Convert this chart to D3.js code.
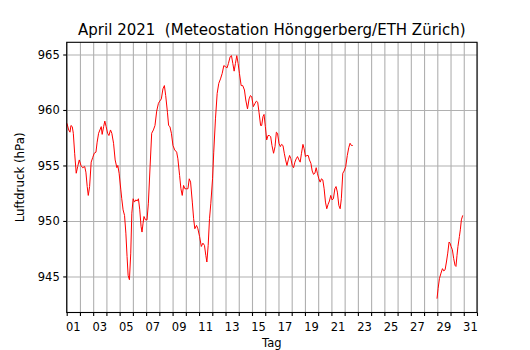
<!DOCTYPE html>
<html>
<head>
<meta charset="utf-8">
<script src="https://cdn.jsdelivr.net/npm/d3@7"></script>
<style>
  html, body { margin: 0; padding: 0; background: #fff; }
  #chart-pressure { width: 530px; height: 350px; }
  text { font-family: "DejaVu Sans", sans-serif; white-space: pre; }
</style>
</head>
<body>
<div id="chart-pressure"></div>
<script>
/* ── Data: April 2021, air pressure (hPa), day of month as decimal ─── */
const TITLE   = 'April 2021  (Meteostation Hönggerberg/ETH Zürich)';
const X_LABEL = 'Tag';
const Y_LABEL = 'Luftdruck (hPa)';

// null marks the gap in the record (22nd – 28th)
const days = [
  1.02, 1.15, 1.25, 1.32, 1.42, 1.50, 1.60, 1.72, 1.83, 1.95,
  2.08, 2.20, 2.36, 2.45, 2.55, 2.63, 2.73, 2.85, 2.96, 3.08,
  3.21, 3.30, 3.41, 3.51, 3.61, 3.68, 3.79, 3.88, 3.98, 4.09,
  4.19, 4.31, 4.41, 4.54, 4.66, 4.79, 4.86, 4.96, 5.09, 5.16,
  5.26, 5.37, 5.47, 5.56, 5.64, 5.74, 5.84, 5.92, 6.02, 6.12,
  6.22, 6.32, 6.42, 6.52, 6.62, 6.69, 6.77, 6.84, 6.95, 7.07,
  7.17, 7.30, 7.42, 7.55, 7.67, 7.80, 7.93, 8.03, 8.15, 8.27,
  8.38, 8.48, 8.61, 8.70, 8.80, 8.91, 9.03, 9.16, 9.31, 9.40,
  9.53, 9.63, 9.73, 9.83, 9.93, 10.04, 10.16, 10.26, 10.36, 10.49,
  10.59, 10.68, 10.81, 10.91, 11.04, 11.17, 11.29, 11.41, 11.51, 11.59,
  11.69, 11.79, 11.89, 12.02, 12.11, 12.24, 12.37, 12.49, 12.62, 12.75,
  12.87, 13.00, 13.12, 13.22, 13.35, 13.45, 13.55, 13.65, 13.75, 13.85,
  13.95, 14.05, 14.18, 14.30, 14.43, 14.53, 14.66, 14.78, 14.88, 14.98,
  15.10, 15.23, 15.33, 15.43, 15.53, 15.65, 15.73, 15.83, 15.91, 16.01,
  16.11, 16.21, 16.31, 16.41, 16.51, 16.63, 16.74, 16.84, 16.93, 17.04,
  17.14, 17.23, 17.34, 17.44, 17.54, 17.64, 17.74, 17.84, 17.94, 18.04,
  18.14, 18.24, 18.34, 18.44, 18.55, 18.64, 18.74, 18.85, 18.94, 19.04,
  19.15, 19.25, 19.34, 19.45, 19.55, 19.65, 19.75, 19.85, 19.94, 20.05,
  20.15, 20.25, 20.35, 20.45, 20.55, 20.65, 20.75, 20.85, 20.95, 21.05,
  21.15, 21.26, 21.35, 21.45, 21.56, 21.66, 21.75, 21.86, 21.96, 22.08,
  22.20, 22.31, 22.41, 22.51, 22.61,
  null,
  28.98, 29.06, 29.16, 29.28, 29.39, 29.49, 29.59, 29.69, 29.79, 29.89,
  29.96, 30.04, 30.14, 30.24, 30.34, 30.41, 30.49, 30.56, 30.67, 30.74,
  30.82, 30.92
];

const pressure = [
  958.8, 958.2, 958.0, 958.6, 958.5, 957.9, 956.1, 954.3, 954.9, 955.5,
  955.0, 954.8, 954.9, 954.4, 953.1, 952.3, 953.1, 955.3, 955.7, 956.1,
  956.2, 957.1, 957.9, 958.2, 958.5, 957.8, 958.5, 959.0, 958.5, 957.9,
  957.7, 958.2, 957.9, 957.0, 955.5, 954.8, 955.0, 954.3, 952.8, 952.0,
  951.0, 950.5, 948.9, 946.8, 945.1, 944.7, 947.1, 950.7, 952.0, 951.7,
  951.9, 951.8, 952.0, 951.0, 949.5, 949.0, 949.8, 950.4, 950.1, 950.1,
  951.6, 954.9, 957.9, 958.2, 958.6, 959.9, 960.6, 960.8, 961.0, 961.9,
  962.2, 961.3, 959.8, 958.6, 958.5, 957.9, 956.8, 956.4, 956.2, 955.6,
  954.1, 952.9, 952.3, 953.2, 952.9, 952.9, 952.9, 953.8, 953.5, 951.7,
  950.2, 949.3, 949.6, 949.3, 948.6, 947.7, 948.0, 947.8, 946.9, 946.3,
  947.8, 950.2, 951.6, 953.8, 956.2, 959.2, 961.5, 962.4, 962.8, 963.3,
  964.0, 963.9, 963.8, 964.2, 964.8, 964.9, 964.2, 963.5, 964.2, 964.9,
  964.2, 963.3, 962.2, 962.2, 961.8, 960.9, 960.1, 961.0, 961.3, 961.2,
  960.3, 960.6, 960.8, 960.7, 959.8, 958.6, 958.6, 959.4, 959.6, 958.5,
  957.3, 957.7, 957.7, 957.6, 956.8, 956.1, 956.7, 958.0, 957.9, 957.0,
  956.7, 956.9, 956.8, 956.1, 955.5, 955.0, 955.5, 955.9, 955.6, 955.0,
  954.8, 955.3, 955.6, 955.8, 955.5, 955.3, 956.1, 956.9, 956.5, 955.8,
  955.9, 955.9, 955.5, 955.2, 954.5, 954.2, 954.3, 954.8, 954.3, 953.8,
  953.5, 953.8, 953.7, 952.9, 951.7, 951.1, 951.5, 951.8, 952.3, 951.9,
  952.0, 952.9, 953.1, 952.6, 951.4, 951.1, 952.0, 954.3, 954.5, 954.9,
  955.9, 956.6, 957.0, 956.8, 956.8,
  null,
  943.0, 943.9, 944.8, 945.3, 945.7, 945.5, 945.6, 946.3, 947.1, 948.1,
  948.0, 947.7, 947.4, 946.6, 946.0, 945.9, 946.9, 947.7, 948.6, 949.2,
  950.1, 950.5
];

const yTicks      = [945, 950, 955, 960, 965];
const dayTicks    = d3.range(1, 33);                 // day boundaries 1 … 32
const dayLabels   = d3.range(1, 32, 2);              // labelled days 01, 03, … 31

/**
 * Render the monthly pressure line chart.
 */
function drawPressureChart() {
  const container = document.getElementById('chart-pressure');
  container.innerHTML = '';

  const W = 530, H = 350;
  const margin = { top: 42.3, right: 53, bottom: 37.5, left: 66.7 };
  const w = W - margin.left - margin.right;
  const h = H - margin.top - margin.bottom;

  const data = days.map((d, i) => ({ day: d, p: pressure[i] }));

  /* ── SVG scaffold ───────────────────────────────────────────────── */
  const svg = d3.select(container)
    .append('svg')
    .attr('width', W)
    .attr('height', H);

  const g = svg.append('g')
    .attr('transform', `translate(${margin.left},${margin.top})`);

  /* ── Scales ─────────────────────────────────────────────────────── */
  const x = d3.scaleLinear().domain([1, 32]).range([0, w]);
  const y = d3.scaleLinear().domain([941.75, 966.1]).range([h, 0]);

  /* ── Grid ───────────────────────────────────────────────────────── */
  g.append('g')
    .call(d3.axisBottom(x).tickValues(dayTicks).tickSize(h).tickFormat(''))
    .call(sel => sel.select('.domain').remove())
    .call(sel => sel.selectAll('line')
      .attr('stroke', '#b0b0b0').attr('stroke-width', 1.1));

  g.append('g')
    .call(d3.axisLeft(y).tickValues(yTicks).tickSize(-w).tickFormat(''))
    .call(sel => sel.select('.domain').remove())
    .call(sel => sel.selectAll('line')
      .attr('stroke', '#b0b0b0').attr('stroke-width', 1.1));

  /* ── Line ───────────────────────────────────────────────────────── */
  const lineGen = d3.line()
    .defined(d => d.p != null)
    .x(d => x(d.day)).y(d => y(d.p));

  g.append('path').datum(data)
    .attr('d', lineGen)
    .attr('fill', 'none')
    .attr('stroke', '#ff0000')
    .attr('stroke-width', 1)
    .attr('stroke-linejoin', 'round');

  /* ── Axes ───────────────────────────────────────────────────────── */
  g.append('g')
    .attr('transform', `translate(0,${h})`)
    .call(d3.axisBottom(x).tickValues(dayTicks).tickSizeOuter(0).tickSize(3.5).tickFormat(''))
    .call(_styleAxis);

  // day labels sit between the day boundaries
  g.append('g')
    .attr('transform', `translate(0,${h})`)
    .selectAll('text')
    .data(dayLabels)
    .join('text')
    .attr('x', d => x(d + 0.5))
    .attr('y', 18)
    .attr('text-anchor', 'middle')
    .attr('font-size', '11.5px')
    .attr('fill', '#000')
    .text(d => d3.format('02d')(d));

  g.append('g')
    .call(d3.axisLeft(y).tickValues(yTicks).tickSizeOuter(0).tickSize(3.5).tickPadding(3.5))
    .call(_styleAxis);

  /* ── Frame ──────────────────────────────────────────────────────── */
  g.append('rect')
    .attr('width', w).attr('height', h)
    .attr('fill', 'none')
    .attr('stroke', '#000')
    .attr('stroke-width', 1.1);

  /* ── Titles ─────────────────────────────────────────────────────── */
  svg.append('text')
    .attr('x', margin.left + w / 2).attr('y', 34.5)
    .attr('text-anchor', 'middle')
    .attr('font-size', '15px')
    .text(TITLE);

  svg.append('text')
    .attr('x', margin.left + w / 2).attr('y', 347)
    .attr('text-anchor', 'middle')
    .attr('font-size', '11.5px')
    .text(X_LABEL);

  svg.append('text')
    .attr('transform', `translate(24,${margin.top + h / 2}) rotate(-90)`)
    .attr('text-anchor', 'middle')
    .attr('font-size', '11.8px')
    .text(Y_LABEL);
}

/**
 * Matplotlib-like axis styling: black ticks and labels.
 */
function _styleAxis(sel) {
  sel.select('.domain').remove();
  sel.selectAll('line').attr('stroke', '#000').attr('stroke-width', 1.1);
  sel.selectAll('text')
    .attr('fill', '#000')
    .attr('font-size', '11.5px')
    .attr('font-family', '"DejaVu Sans", sans-serif');
}

drawPressureChart();
</script>
</body>
</html>
